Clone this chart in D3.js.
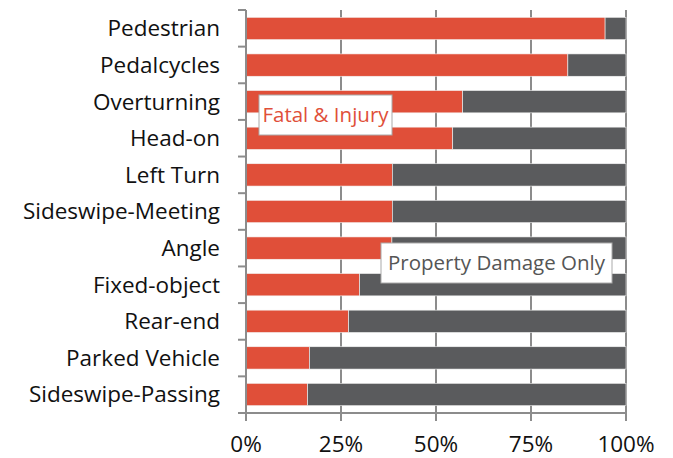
<!DOCTYPE html>
<html>
<head>
<meta charset="utf-8">
<script src="https://cdn.jsdelivr.net/npm/d3@7"></script>
<style>
  body { margin: 0; background: #fff; }
  svg { display: block; font-family: "Open Sans", sans-serif; }
</style>
</head>
<body>
<svg id="chart" width="673" height="458"></svg>
<script>
// crash types, top to bottom
var categories = ['Pedestrian', 'Pedalcycles', 'Overturning', 'Head-on', 'Left Turn',
  'Sideswipe-Meeting', 'Angle', 'Fixed-object', 'Rear-end', 'Parked Vehicle', 'Sideswipe-Passing'];
// share of Fatal & Injury crashes (%)
var fatalInjury = [94.5, 84.7, 57.0, 54.4, 38.5, 38.5, 38.4, 29.9, 27.0, 16.7, 16.2];
var seriesNames = ['Fatal & Injury', 'Property Damage Only'];
var xTicks = [0, 25, 50, 75, 100];

var rows = categories.map(function(c, i){
  return {name: c, fi: fatalInjury[i], pdo: 100 - fatalInjury[i]};
});

var svg = d3.select('#chart');
var margin = {top: 10, left: 246, right: 47, bottom: 45};
var w = 673 - margin.left - margin.right;
var h = 458 - margin.top - margin.bottom;

var x = d3.scaleLinear().domain([0, 100]).range([0, w]);
var y = d3.scaleBand().domain(categories).range([0, h]).paddingInner(0.39).paddingOuter(0.2);

var g = svg.append('g').attr('transform', 'translate(' + margin.left + ',' + margin.top + ')');

// vertical gridlines
g.selectAll('line.grid')
  .data(xTicks.slice(1))
  .enter().append('line')
  .attr('class', 'grid')
  .attr('x1', function(d){ return x(d); })
  .attr('x2', function(d){ return x(d); })
  .attr('y1', 0).attr('y2', h)
  .attr('stroke', '#8c8c8c').attr('stroke-width', 2);

var stack = d3.stack().keys(['fi', 'pdo'])(rows);
var colors = ['#e04f39', '#5a5b5d'];

g.selectAll('g.series')
  .data(stack)
  .enter().append('g')
  .attr('class', 'series')
  .attr('fill', function(d, i){ return colors[i]; })
  .selectAll('rect')
  .data(function(d){ return d; })
  .enter().append('rect')
  .attr('x', function(d){ return x(d[0]); })
  .attr('width', function(d){ return x(d[1]) - x(d[0]); })
  .attr('y', function(d){ return y(d.data.name); })
  .attr('height', y.bandwidth())
  .attr('stroke', '#f3f3f3').attr('stroke-width', 0.6);

// y axis with ticks between categories
g.append('line')
  .attr('x1', 0).attr('x2', 0).attr('y1', 0).attr('y2', h)
  .attr('stroke', '#8c8c8c').attr('stroke-width', 2);
var step = h / categories.length;
g.selectAll('line.ytick')
  .data(d3.range(categories.length + 1))
  .enter().append('line')
  .attr('class', 'ytick')
  .attr('x1', -8).attr('x2', 0)
  .attr('y1', function(d){ return d * step; })
  .attr('y2', function(d){ return d * step; })
  .attr('stroke', '#8c8c8c').attr('stroke-width', 2);

g.selectAll('text.ylab')
  .data(categories)
  .enter().append('text')
  .attr('class', 'ylab')
  .attr('x', -26)
  .attr('y', function(d){ return y(d) + y.bandwidth() / 2; })
  .attr('dy', '0.35em')
  .attr('text-anchor', 'end')
  .attr('font-size', 22.5)
  .attr('fill', '#111')
  .text(function(d){ return d; });

// x axis
g.append('line')
  .attr('x1', 0).attr('x2', w).attr('y1', h).attr('y2', h)
  .attr('stroke', '#8c8c8c').attr('stroke-width', 2);
g.selectAll('line.xtick')
  .data(xTicks)
  .enter().append('line')
  .attr('class', 'xtick')
  .attr('x1', function(d){ return x(d); })
  .attr('x2', function(d){ return x(d); })
  .attr('y1', h).attr('y2', h + 8)
  .attr('stroke', '#8c8c8c').attr('stroke-width', 2);
g.selectAll('text.xlab')
  .data(xTicks)
  .enter().append('text')
  .attr('class', 'xlab')
  .attr('x', function(d){ return x(d); })
  .attr('y', h + 39)
  .attr('text-anchor', 'middle')
  .attr('font-size', 22.5)
  .attr('fill', '#111')
  .text(function(d){ return d + '%'; });

// in-chart series labels
var labels = [
  {text: seriesNames[0], color: '#e04f39', x: 13, y: 85, w: 133, h: 40},
  {text: seriesNames[1], color: '#555', x: 135, y: 233, w: 231, h: 40}
];
var lab = g.selectAll('g.lab')
  .data(labels)
  .enter().append('g')
  .attr('class', 'lab')
  .attr('transform', function(d){ return 'translate(' + d.x + ',' + d.y + ')'; });
lab.append('rect')
  .attr('width', function(d){ return d.w; })
  .attr('height', function(d){ return d.h; })
  .attr('fill', '#fff')
  .attr('stroke', '#aaa').attr('stroke-width', 1);
lab.append('text')
  .attr('x', function(d){ return d.w / 2; })
  .attr('y', function(d){ return d.h / 2; })
  .attr('dy', '0.35em')
  .attr('text-anchor', 'middle')
  .attr('font-size', 20.5)
  .attr('fill', function(d){ return d.color; })
  .text(function(d){ return d.text; });
</script>
</body>
</html>
